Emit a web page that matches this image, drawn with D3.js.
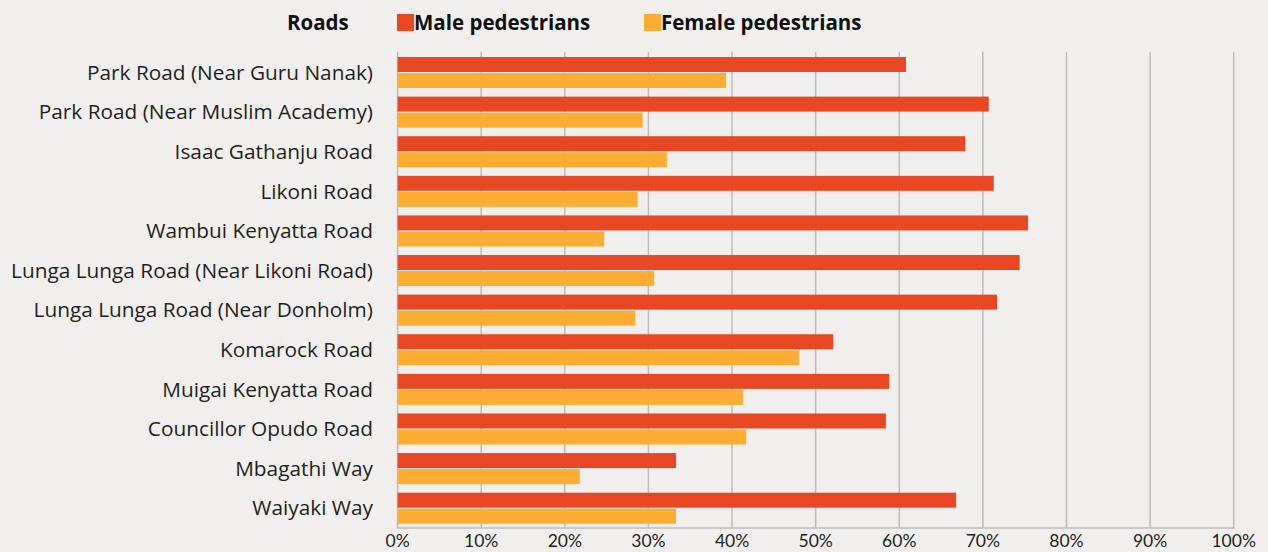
<!DOCTYPE html>
<html>
<head>
<meta charset="utf-8">
<script src="https://cdn.jsdelivr.net/npm/d3@7"></script>
<style>
  html, body { margin: 0; padding: 0; background: #f0efed; }
  svg { display: block; }
</style>
</head>
<body>
<div id="chart"></div>
<script>
const roads = [
  "Park Road (Near Guru Nanak)",
  "Park Road (Near Muslim Academy)",
  "Isaac Gathanju Road",
  "Likoni Road",
  "Wambui Kenyatta Road",
  "Lunga Lunga Road (Near Likoni Road)",
  "Lunga Lunga Road (Near Donholm)",
  "Komarock Road",
  "Muigai Kenyatta Road",
  "Councillor Opudo Road",
  "Mbagathi Way",
  "Waiyaki Way"
];
const maleValues   = [60.8, 70.7, 67.9, 71.3, 75.4, 74.4, 71.7, 52.1, 58.8, 58.4, 33.3, 66.8];
const femaleValues = [39.3, 29.3, 32.2, 28.7, 24.7, 30.7, 28.4, 48.0, 41.3, 41.7, 21.8, 33.3];
const seriesNames  = ["Male pedestrians", "Female pedestrians"];
const xTicks       = [0, 10, 20, 30, 40, 50, 60, 70, 80, 90, 100];

const width = 1268, height = 552;
const plotLeft = 397.6, plotRight = 1233.7, plotTop = 52.7, plotBottom = 528;
const colors = { male: "#e74823", female: "#fcad33" };
const gridColor = "#bcbcbc";
const labelFont = "'Open Sans', Lato, sans-serif";
const tickFont = "Lato, 'Open Sans', sans-serif";

const rows = roads.map((r, i) => ({ road: r, male: maleValues[i], female: femaleValues[i] }));

const svg = d3.select("#chart").append("svg")
  .attr("width", width)
  .attr("height", height)
  .style("background", "#f0efed");

const x = d3.scaleLinear().domain([0, 100]).range([plotLeft, plotRight]);
const y = d3.scaleBand().domain(roads).range([plotTop, plotBottom]);
const sub = d3.scaleBand().domain(["male", "female"])
  .range([4.3, y.bandwidth() - 4.3])
  .paddingInner(0.0645);

// gridlines
svg.append("g").selectAll("line")
  .data(xTicks)
  .enter().append("line")
  .attr("x1", d => x(d)).attr("x2", d => x(d))
  .attr("y1", plotTop - 1).attr("y2", plotBottom)
  .attr("stroke", gridColor)
  .attr("stroke-width", 1.5);

// bars
const group = svg.append("g").selectAll("g")
  .data(rows)
  .enter().append("g")
  .attr("transform", d => `translate(0,${y(d.road)})`);

["male", "female"].forEach(key => {
  group.append("rect")
    .attr("x", x(0))
    .attr("y", sub(key))
    .attr("width", d => x(d[key]) - x(0))
    .attr("height", sub.bandwidth())
    .attr("fill", colors[key]);
});

// bottom axis line
svg.append("line")
  .attr("x1", x(0) - 0.75).attr("x2", x(100) + 0.75)
  .attr("y1", plotBottom).attr("y2", plotBottom)
  .attr("stroke", gridColor)
  .attr("stroke-width", 1.5);

// x tick labels
svg.append("g").selectAll("text")
  .data(xTicks)
  .enter().append("text")
  .attr("x", d => x(d))
  .attr("y", 547)
  .attr("text-anchor", "middle")
  .attr("font-family", tickFont)
  .attr("font-size", 17.5)
  .attr("fill", "#231f20")
  .text(d => d + "%");

// road labels
svg.append("g").selectAll("text")
  .data(roads)
  .enter().append("text")
  .attr("x", 373)
  .attr("y", d => y(d) + y.bandwidth() / 2)
  .attr("dy", "0.35em")
  .attr("text-anchor", "end")
  .attr("font-family", labelFont)
  .attr("font-size", 20.8)
  .attr("fill", "#231f20")
  .text(d => d);

// legend
const legend = svg.append("g").attr("font-family", labelFont).attr("font-weight", "bold")
  .attr("font-size", 20.5).attr("fill", "#111");
legend.append("text").attr("x", 287).attr("y", 30).text("Roads");
const legendItems = [
  { key: "male", label: seriesNames[0], x: 397 },
  { key: "female", label: seriesNames[1], x: 644 }
];
legendItems.forEach(it => {
  legend.append("rect")
    .attr("x", it.x).attr("y", 14)
    .attr("width", 17).attr("height", 17)
    .attr("fill", colors[it.key]);
  legend.append("text")
    .attr("x", it.x + 17).attr("y", 30)
    .text(it.label);
});
</script>
</body>
</html>
